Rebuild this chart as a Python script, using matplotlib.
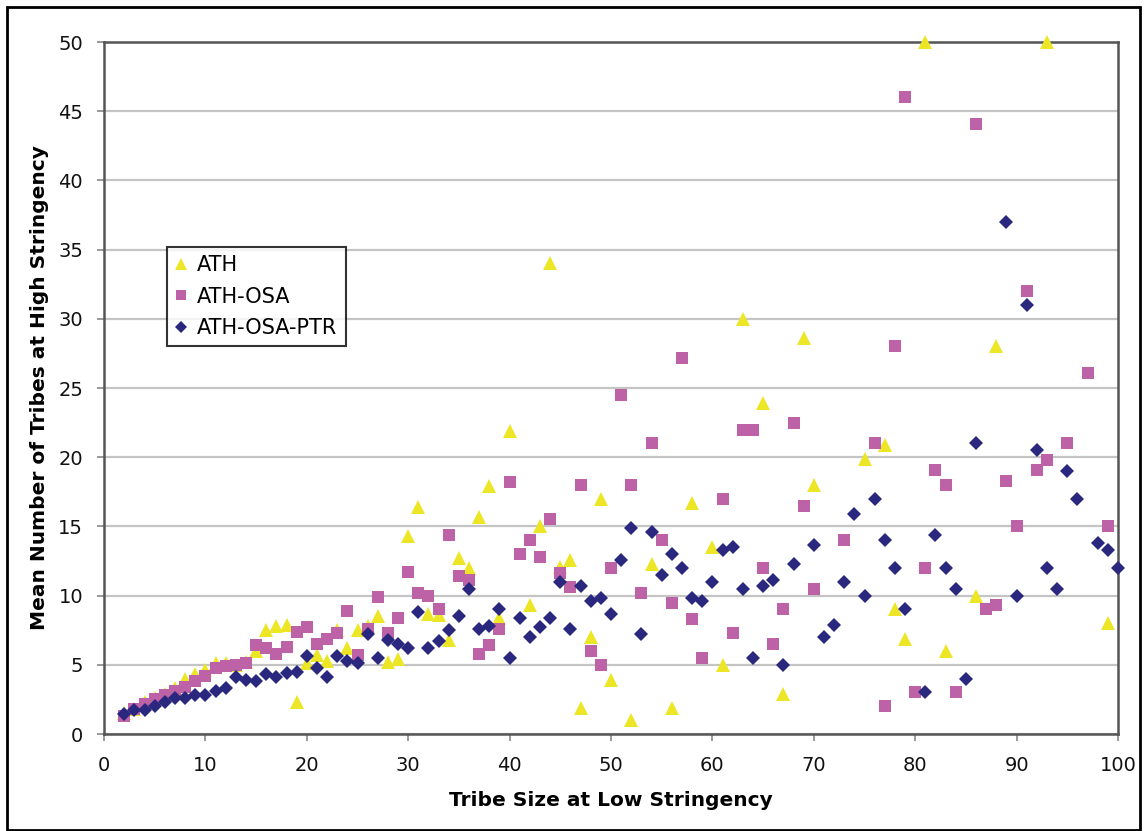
import numpy as np
import matplotlib
matplotlib.use("Agg")
import matplotlib.pyplot as plt
from matplotlib.patches import Rectangle

# mean number of tribes at high stringency, by tribe size at low stringency
ath_x = [2, 3, 4, 5, 6, 7, 8, 9, 10, 11, 12, 13, 14, 15, 16, 17, 18, 19, 20,
         21, 22, 23, 24, 25, 26, 27, 28, 29, 30, 31, 32, 33, 34, 35, 36, 37,
         38, 39, 40, 42, 43, 44, 45, 46, 47, 48, 49, 50, 52, 54, 56, 58, 60,
         61, 63, 65, 67, 69, 70, 75, 77, 78, 79, 81, 83, 86, 88, 93, 99]
ath_y = [1.5, 1.8, 2.3, 2.6, 2.9, 3.3, 4.0, 4.3, 4.6, 5.1, 5.1, 5.0, 5.2, 6.0,
         7.5, 7.8, 7.9, 2.3, 5.1, 5.7, 5.3, 7.5, 6.2, 7.5, 7.8, 8.5, 5.2, 5.4,
         14.3, 16.4, 8.7, 8.6, 6.8, 12.7, 12.0, 15.7, 17.9, 8.4, 21.9, 9.3,
         15.0, 34.0, 12.1, 12.6, 1.9, 7.0, 17.0, 3.9, 1.0, 12.3, 1.9, 16.7,
         13.5, 5.0, 30.0, 23.9, 2.9, 28.6, 18.0, 19.9, 20.9, 9.0, 6.9, 50.0,
         6.0, 10.0, 28.0, 50.0, 8.0]

osa_x = [2, 3, 4, 5, 6, 7, 8, 9, 10, 11, 12, 13, 14, 15, 16, 17, 18, 19, 20,
         21, 22, 23, 24, 25, 26, 27, 28, 29, 30, 31, 32, 33, 34, 35, 36, 37,
         38, 39, 40, 41, 42, 43, 44, 45, 46, 47, 48, 49, 50, 51, 52, 53, 54,
         55, 56, 57, 58, 59, 61, 62, 63, 64, 65, 66, 67, 68, 69, 70, 73, 76,
         77, 78, 79, 80, 81, 82, 83, 84, 86, 87, 88, 89, 90, 91, 92, 93, 95,
         97, 99]
osa_y = [1.3, 1.8, 2.2, 2.5, 2.8, 3.1, 3.4, 3.8, 4.2, 4.8, 4.9, 5.0, 5.1, 6.4,
         6.2, 5.8, 6.3, 7.4, 7.7, 6.5, 6.85, 7.3, 8.9, 5.7, 7.6, 9.9, 7.3, 8.4,
         11.7, 10.2, 10.0, 9.0, 14.4, 11.4, 11.1, 5.8, 6.4, 7.6, 18.2, 13.0,
         14.0, 12.8, 15.5, 11.6, 10.6, 18.0, 6.0, 5.0, 12.0, 24.5, 18.0, 10.2,
         21.0, 14.0, 9.5, 27.2, 8.3, 5.5, 17.0, 7.3, 22.0, 22.0, 12.0, 6.5,
         9.0, 22.5, 16.5, 10.5, 14.0, 21.0, 2.0, 28.0, 46.0, 3.0, 12.0, 19.1,
         18.0, 3.0, 44.1, 9.0, 9.3, 18.3, 15.0, 32.0, 19.1, 19.8, 21.0, 26.1,
         15.0]

ptr_x = [2, 3, 4, 5, 6, 7, 8, 9, 10, 11, 12, 13, 14, 15, 16, 17, 18, 19, 20,
         21, 22, 23, 24, 25, 26, 27, 28, 29, 30, 31, 32, 33, 34, 35, 36, 37,
         38, 39, 40, 41, 42, 43, 44, 45, 46, 47, 48, 49, 50, 51, 52, 53, 54,
         55, 56, 57, 58, 59, 60, 61, 62, 63, 64, 65, 66, 67, 68, 70, 71, 72,
         73, 74, 75, 76, 77, 78, 79, 81, 82, 83, 84, 85, 86, 89, 90, 91, 92,
         93, 94, 95, 96, 98, 99, 100]
ptr_y = [1.45, 1.7, 1.7, 2.0, 2.3, 2.6, 2.6, 2.8, 2.8, 3.1, 3.35, 4.1, 3.9,
         3.8, 4.3, 4.1, 4.4, 4.45, 5.6, 4.8, 4.1, 5.6, 5.3, 5.1, 7.2, 5.5, 6.8,
         6.5, 6.2, 8.8, 6.2, 6.7, 7.5, 8.5, 10.5, 7.6, 7.8, 9.0, 5.5, 8.4, 7.0,
         7.7, 8.4, 11.0, 7.6, 10.7, 9.6, 9.8, 8.7, 12.6, 14.9, 7.2, 14.6, 11.5,
         13.0, 12.0, 9.8, 9.6, 11.0, 13.3, 13.5, 10.5, 5.5, 10.7, 11.1, 5.0,
         12.3, 13.65, 7.0, 7.9, 11.0, 15.9, 10.0, 17.0, 14.0, 12.0, 9.0, 3.0,
         14.4, 12.0, 10.5, 4.0, 21.0, 37.0, 10.0, 31.0, 20.5, 12.0, 10.5, 19.0,
         17.0, 13.8, 13.3, 12.0]

fig = plt.figure(figsize=(11.45, 8.31), dpi=100)
ax = fig.add_axes([104 / 1145, 97 / 831, 1014 / 1145, 692 / 831])

ax.plot(ath_x, ath_y, linestyle="none", marker="^", markersize=10,
        color="#ECE626", markeredgewidth=0, label="ATH", clip_on=False, zorder=3)
ax.plot(osa_x, osa_y, linestyle="none", marker="s", markersize=8.8,
        color="#BE62A8", markeredgewidth=0, label="ATH-OSA", clip_on=False, zorder=4)
ax.plot(ptr_x, ptr_y, linestyle="none", marker="D", markersize=6.8,
        color="#29287E", markeredgewidth=0, label="ATH-OSA-PTR", clip_on=False, zorder=5)

ax.set_xlim(0, 100)
ax.set_ylim(0, 50)
ax.set_xticks(np.arange(0, 101, 10))
ax.set_yticks(np.arange(0, 51, 5))
ax.grid(axis="y", color="#C4C4C4", linewidth=1.6)
ax.set_axisbelow(True)
for s in ax.spines.values():
    s.set_color("#555555")
    s.set_linewidth(1.8)
ax.tick_params(axis="both", direction="out", length=5, width=1.2,
               color="#888888", labelsize=14, labelcolor="#111111")
ax.tick_params(axis="x", pad=11)
ax.tick_params(axis="y", pad=10)

ax.set_xlabel("Tribe Size at Low Stringency", fontsize=14.5, fontweight="bold",
              labelpad=11)
ax.set_ylabel("Mean Number of Tribes at High Stringency", fontsize=14.5,
              fontweight="bold", labelpad=7)

leg = ax.legend(loc="upper left", bbox_to_anchor=(0.062, 0.704),
                borderaxespad=0, fancybox=False, fontsize=15,
                handlelength=0.6, handletextpad=0.45, borderpad=0.4,
                labelspacing=0.55, markerscale=0.85)
leg.get_frame().set_edgecolor("black")
leg.get_frame().set_linewidth(1.5)

# outer border around the whole chart
fig.patches.append(Rectangle((7 / 1145, 1 / 831), 1133 / 1145, 823 / 831,
                             transform=fig.transFigure, fill=False,
                             edgecolor="black", linewidth=2))

fig.savefig("out.png", dpi=100)
